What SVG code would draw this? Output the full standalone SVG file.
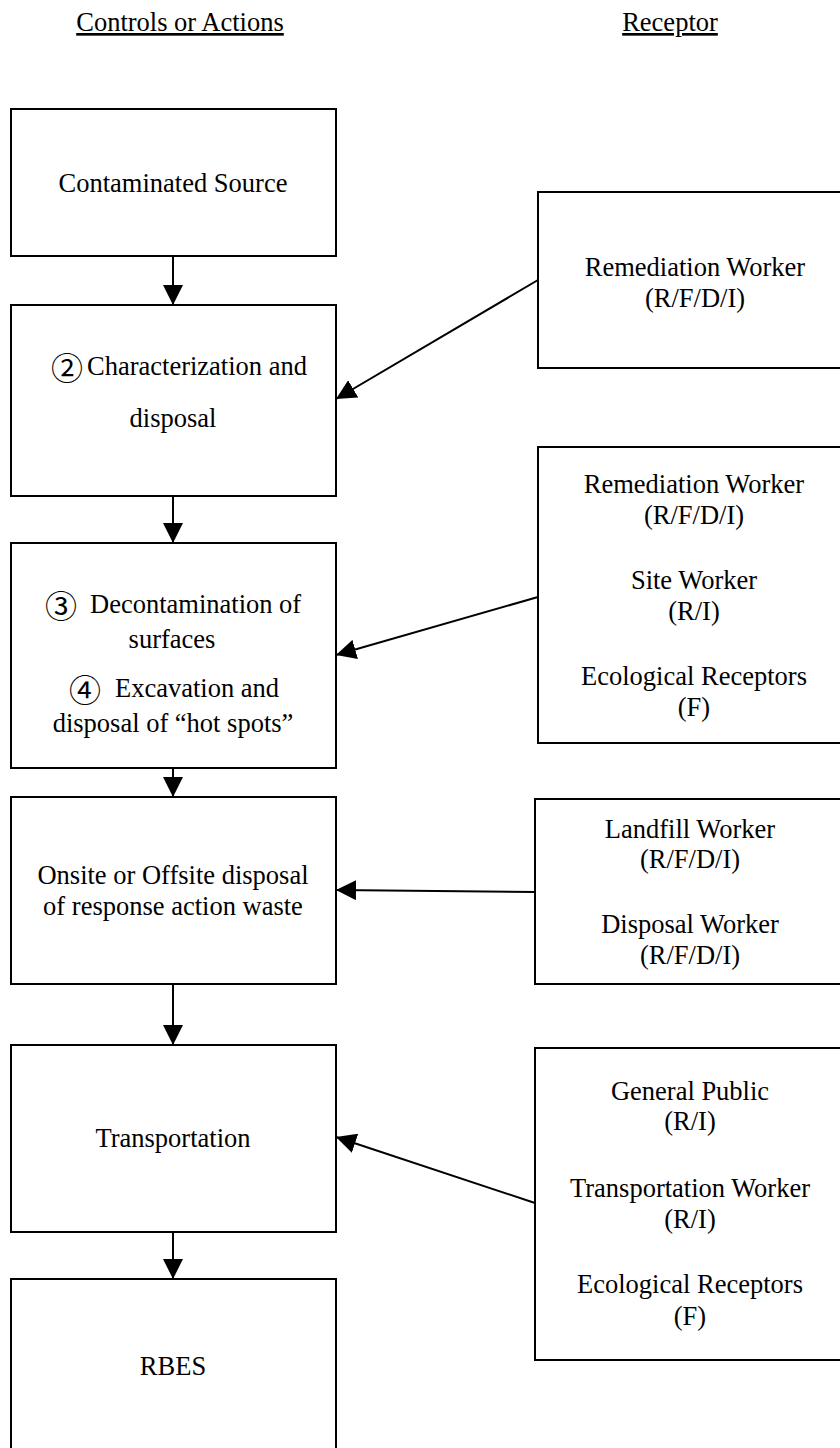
<svg xmlns="http://www.w3.org/2000/svg" width="840" height="1448" viewBox="0 0 840 1448">
  <style>
    .box { fill: #fff; stroke: #000; stroke-width: 2; }
    .lbl { font-family: "Liberation Serif", "Times New Roman", serif; font-size: 26.5px; fill: #000; }
    .c { text-anchor: middle; }
    .hdr { text-decoration: underline; }
    .num { font-family: "Noto Sans CJK JP", "DejaVu Sans", sans-serif; font-size: 32px; }
    .link { fill: none; stroke: #000; stroke-width: 2; marker-end: url(#head); }
  </style>
  <defs>
    <marker id="head" markerUnits="userSpaceOnUse" markerWidth="20" markerHeight="20" refX="20" refY="10" orient="auto">
      <path d="M0,0 L20,10 L0,20 Z" fill="#000"/>
    </marker>
  </defs>
  <rect width="840" height="1448" fill="#fff"/>

  <!-- column headings -->
  <g id="headings">
    <text class="lbl c hdr" x="180" y="31">Controls or Actions</text>
    <text class="lbl c hdr" x="670" y="31">Receptor</text>
  </g>

  <!-- control / action column -->
  <g id="source">
    <rect class="box" x="11" y="109" width="325" height="147"/>
    <text class="lbl c" x="173" y="192">Contaminated Source</text>
  </g>
  <g id="characterization">
    <rect class="box" x="11" y="305" width="325" height="191"/>
    <text class="lbl"><tspan class="num" x="51" y="380">②</tspan><tspan x="87" y="375">Characterization and</tspan></text>
    <text class="lbl c" x="173" y="427">disposal</text>
  </g>
  <g id="decontamination">
    <rect class="box" x="11" y="543" width="325" height="225"/>
    <text class="lbl"><tspan class="num" x="45" y="618">③</tspan><tspan x="90" y="613">Decontamination of</tspan></text>
    <text class="lbl c" x="172" y="648">surfaces</text>
    <text class="lbl"><tspan class="num" x="69" y="702">④</tspan><tspan x="115" y="697">Excavation and</tspan></text>
    <text class="lbl c" x="173" y="732">disposal of “hot spots”</text>
  </g>
  <g id="disposal">
    <rect class="box" x="11" y="797" width="325" height="187"/>
    <text class="lbl c" x="173" y="884">Onsite or Offsite disposal</text>
    <text class="lbl c" x="173" y="915">of response action waste</text>
  </g>
  <g id="transportation">
    <rect class="box" x="11" y="1045" width="325" height="187"/>
    <text class="lbl c" x="173" y="1147">Transportation</text>
  </g>
  <g id="rbes">
    <rect class="box" x="11" y="1279" width="325" height="190"/>
    <text class="lbl c" x="173" y="1375">RBES</text>
  </g>

  <!-- receptor column -->
  <g id="receptor-characterization">
    <rect class="box" x="538" y="192" width="320" height="176"/>
    <text class="lbl c" x="695" y="276">Remediation Worker</text>
    <text class="lbl c" x="695" y="307">(R/F/D/I)</text>
  </g>
  <g id="receptor-decontamination">
    <rect class="box" x="538" y="447" width="320" height="296"/>
    <text class="lbl c" x="694" y="493">Remediation Worker</text>
    <text class="lbl c" x="694" y="524">(R/F/D/I)</text>
    <text class="lbl c" x="694" y="589">Site Worker</text>
    <text class="lbl c" x="694" y="620">(R/I)</text>
    <text class="lbl c" x="694" y="685">Ecological Receptors</text>
    <text class="lbl c" x="694" y="716">(F)</text>
  </g>
  <g id="receptor-disposal">
    <rect class="box" x="535" y="799" width="320" height="185"/>
    <text class="lbl c" x="690" y="838">Landfill Worker</text>
    <text class="lbl c" x="690" y="868">(R/F/D/I)</text>
    <text class="lbl c" x="690" y="933">Disposal Worker</text>
    <text class="lbl c" x="690" y="964">(R/F/D/I)</text>
  </g>
  <g id="receptor-transportation">
    <rect class="box" x="535" y="1048" width="320" height="312"/>
    <text class="lbl c" x="690" y="1100">General Public</text>
    <text class="lbl c" x="690" y="1130">(R/I)</text>
    <text class="lbl c" x="690" y="1197">Transportation Worker</text>
    <text class="lbl c" x="690" y="1228">(R/I)</text>
    <text class="lbl c" x="690" y="1293">Ecological Receptors</text>
    <text class="lbl c" x="690" y="1325">(F)</text>
  </g>

  <!-- connectors -->
  <g id="connectors">
    <line class="link" x1="173" y1="256" x2="173" y2="305"/>
    <line class="link" x1="173" y1="496" x2="173" y2="543"/>
    <line class="link" x1="173" y1="768" x2="173" y2="797"/>
    <line class="link" x1="173" y1="984" x2="173" y2="1045"/>
    <line class="link" x1="173" y1="1232" x2="173" y2="1279"/>
    <line class="link" x1="538" y1="280" x2="336" y2="399"/>
    <line class="link" x1="538" y1="597" x2="336" y2="655"/>
    <line class="link" x1="535" y1="892" x2="336" y2="890"/>
    <line class="link" x1="535" y1="1203" x2="336" y2="1137"/>
  </g>
</svg>
